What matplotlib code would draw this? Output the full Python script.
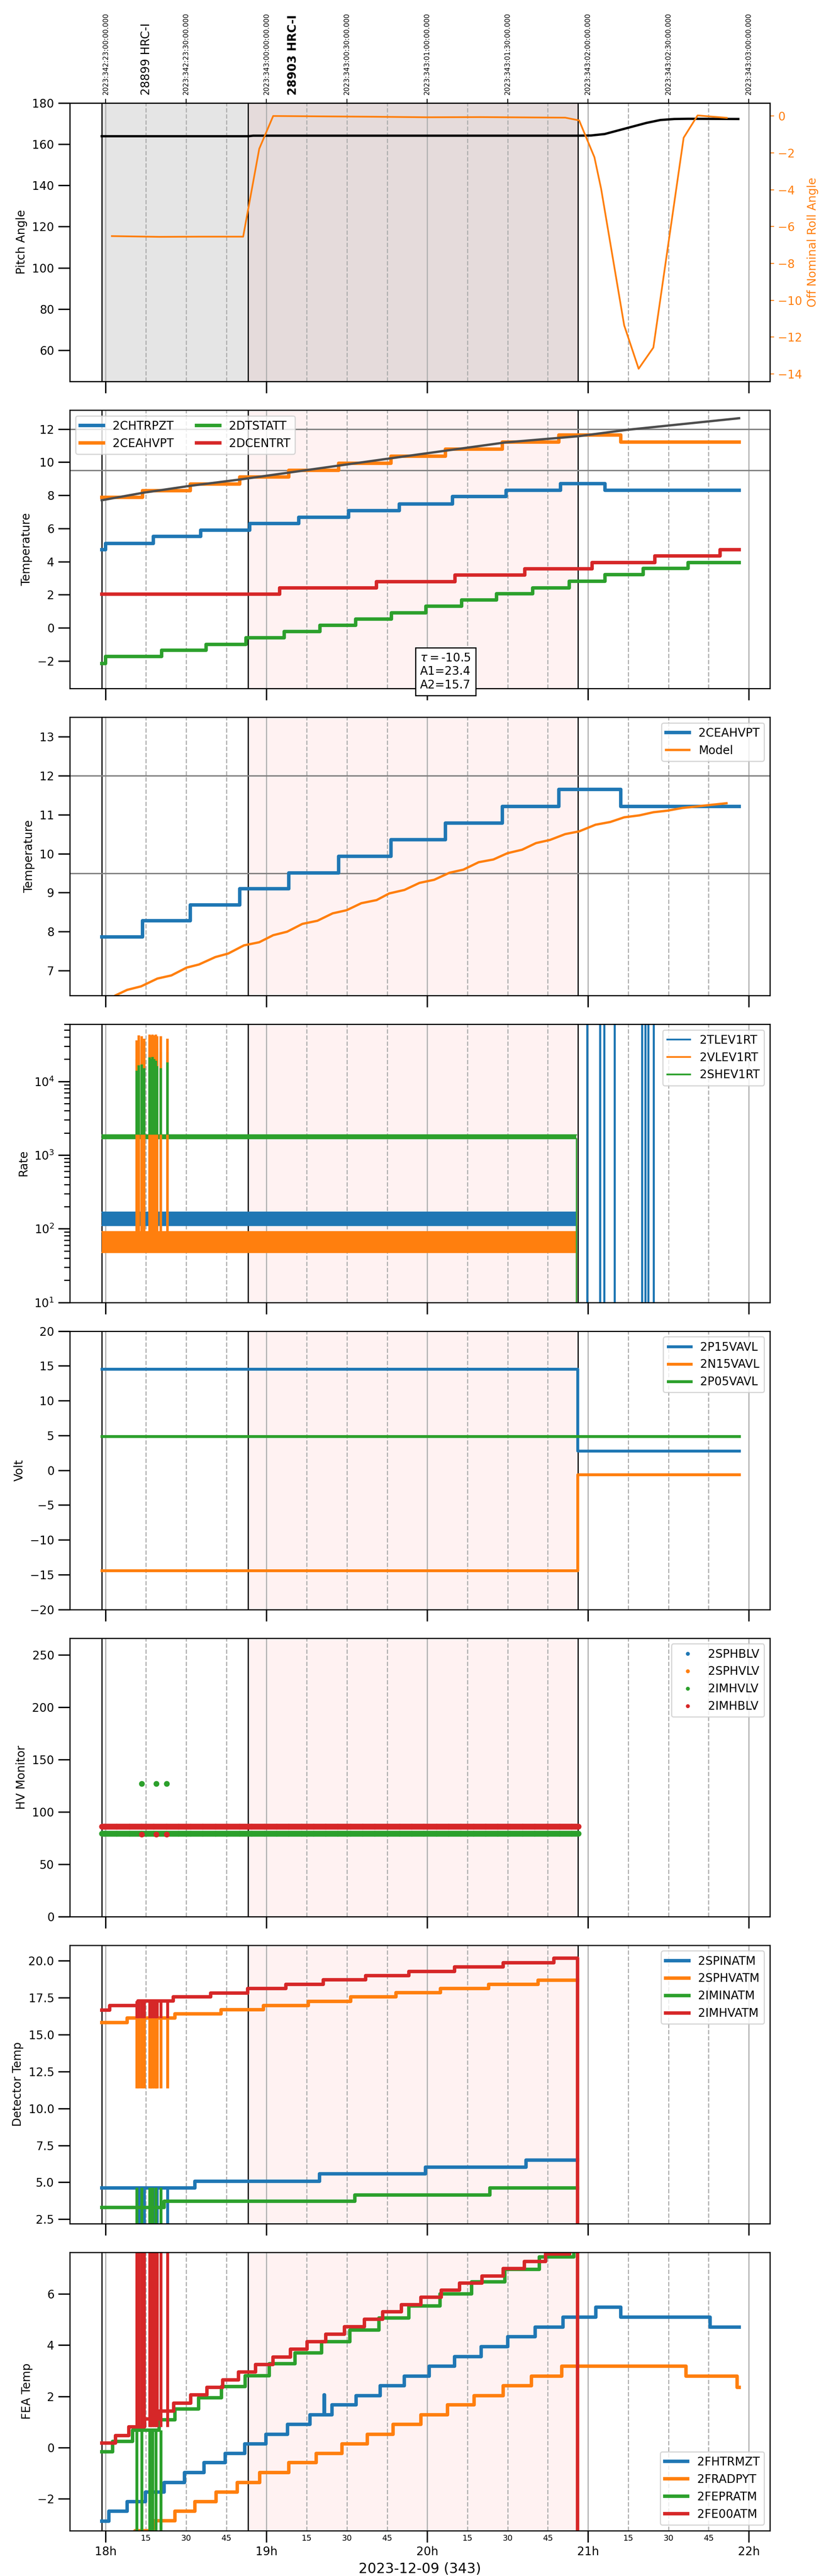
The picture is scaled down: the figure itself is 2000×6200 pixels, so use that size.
import numpy as np
import matplotlib
matplotlib.use('Agg')
import matplotlib.pyplot as plt
import matplotlib.transforms as mtransforms

plt.rcParams['font.family'] = ['DejaVu Sans']
plt.rcParams['axes.linewidth'] = 1.0

# ---------------- time axis (minutes after 2023-12-09 18:00 local) ----------------
XLIM = (-13.4, 247.9)
major_tick_t = [0, 60, 120, 180, 240]
major_tick_labels = ['18h', '19h', '20h', '21h', '22h']
minor_tick_t = [15, 30, 45, 75, 90, 105, 135, 150, 165, 195, 210, 225]
minor_tick_labels = ['15', '30', '45', '15', '30', '45', '15', '30', '45', '15', '30', '45']
top_tick_t = [0, 30, 60, 90, 120, 150, 180, 210, 240]
top_tick_labels = ['2023:342:23:00:00.000', '2023:342:23:30:00.000',
                   '2023:343:00:00:00.000', '2023:343:00:30:00.000',
                   '2023:343:01:00:00.000', '2023:343:01:30:00.000',
                   '2023:343:02:00:00.000', '2023:343:02:30:00.000',
                   '2023:343:03:00:00.000']
xlabel_text = '2023-12-09 (343)'

obs_start = [-1.5, 53.2]
obs_end = [53.2, 176.2]
obs_labels = ['28899 HRC-I', '28903 HRC-I']
obs_label_t = [15.1, 69.8]
obs_bold = [False, True]
highlight = (53.2, 176.2)

# ---------------- panel 1 ----------------
pitch_t = [-1.5, 53.2, 55.0, 176.2, 181.1, 186.2, 191.4, 196.6, 201.8, 207.0, 212.2, 217.4, 236.1]
pitch_v = [163.85, 163.85, 164.1, 164.1, 164.2, 164.9, 166.7, 168.5, 170.3, 171.7, 172.2, 172.3, 172.2]
roll_t = [2.3, 20.0, 35.0, 51.3, 57.3, 62.5, 80.0, 100.0, 120.0, 140.0, 160.0, 171.5,
          176.7, 182.4, 184.9, 193.5, 198.9, 204.4, 215.7, 220.9, 231.8]
roll_v = [-6.52, -6.56, -6.55, -6.55, -1.78, 0.0, -0.02, -0.04, -0.07, -0.06, -0.08, -0.09,
          -0.24, -2.24, -3.95, -11.36, -13.72, -12.57, -1.18, 0.03, -0.10]

# ---------------- panel 2 ----------------
chtrpzt_t = [-1.5, -0.1, 17.7, 35.4, 53.8, 72.1, 90.6, 109.6, 129.4, 149.5, 169.8, 186.4, 236.4]
chtrpzt_v = [4.71, 5.10, 5.51, 5.89, 6.30, 6.68, 7.08, 7.47, 7.92, 8.31, 8.70, 8.30]
ceahvpt_t = [-1.5, 13.8, 31.5, 50.0, 68.3, 86.9, 106.4, 126.8, 148.0, 169.1, 192.2, 236.4]
ceahvpt_v = [7.87, 8.28, 8.69, 9.10, 9.51, 9.93, 10.36, 10.78, 11.21, 11.64, 11.21]
dtstatt_t = [-1.5, -0.1, 20.9, 37.4, 52.3, 66.6, 80.0, 93.3, 106.7, 119.5, 132.9, 145.9,
             159.4, 173.0, 186.4, 200.6, 217.4, 236.4]
dtstatt_v = [-2.15, -1.74, -1.36, -0.99, -0.61, -0.22, 0.15, 0.52, 0.90, 1.30, 1.68, 2.05,
             2.41, 2.80, 3.20, 3.58, 3.95]
dcentrt_t = [-1.5, 64.9, 101.0, 130.4, 156.4, 181.6, 204.9, 229.3, 236.4]
dcentrt_v = [2.03, 2.41, 2.79, 3.19, 3.56, 3.95, 4.34, 4.71]
model2_t = [-1.5, 13.9, 31.5, 50.0, 86.9, 115.6, 149.2, 176.2, 194.6, 236.4]
model2_v = [7.70, 8.15, 8.57, 8.95, 9.79, 10.44, 11.19, 11.56, 11.95, 12.65]
limit_lines = [12.0, 9.5]
fit_text = '$\\tau = $-10.5\nA1=23.4\nA2=15.7'

# ---------------- panel 3 ----------------
model3_t = [3.7, 8.0, 13.2, 19.3, 24.5, 30.2, 34.8, 40.9, 45.7, 51.6, 57.3, 62.5, 67.7, 73.4,
            79.0, 84.7, 89.9, 95.4, 101.1, 105.8, 111.5, 117.1, 122.6, 128.3, 133.5, 139.2,
            144.7, 149.9, 155.4, 160.6, 165.8, 171.5, 176.7, 182.8, 188.3, 193.5, 199.2,
            204.4, 209.6, 215.3, 220.8, 226.0, 231.7]
model3_v = [6.37, 6.51, 6.60, 6.80, 6.88, 7.08, 7.16, 7.35, 7.44, 7.65, 7.73, 7.91, 8.00, 8.20,
            8.28, 8.47, 8.55, 8.73, 8.81, 8.98, 9.07, 9.25, 9.33, 9.51, 9.59, 9.78, 9.85,
            10.01, 10.10, 10.27, 10.35, 10.50, 10.57, 10.74, 10.81, 10.93, 10.98, 11.06,
            11.10, 11.17, 11.21, 11.25, 11.29]

# ---------------- panel 4 (rates) ----------------
rate_t = [-1.5, 175.7]
tlev_lo = [112, 112]
tlev_hi = [168, 168]
vlev_lo = [48, 48]
vlev_hi = [92, 92]
shev_lo = [1680, 1680]
shev_hi = [1900, 1900]
burst_t = [11.6, 12.4, 13.5, 14.3, 16.3, 16.9, 17.5, 18.1, 18.7, 19.1, 20.5, 23.0]
tlev_burst_peak = [20000, 36000, 30000, 25000, 30000, 28000, 30000, 28000, 30000, 28000, 25000, 25000]
vlev_burst_peak = [36000, 42000, 41000, 38000, 43000, 42000, 43000, 42000, 43000, 41000, 41000, 38000]
shev_burst_peak = [14000, 16500, 17000, 15000, 21000, 20000, 21500, 20000, 19000, 16000, 15000, 18000]
tlev_late_t = [179.6, 184.5, 186.1, 189.9, 200.2, 201.4, 202.5, 204.5]

# ---------------- panel 5 (volt) ----------------
p15_t = [-1.5, 176.1, 236.4]
p15_v = [14.56, 2.78]
n15_t = [-1.5, 176.1, 236.4]
n15_v = [-14.43, -0.60]
p05_t = [-1.5, 236.4]
p05_v = [4.86]

# ---------------- panel 6 (HV monitor) ----------------
hv_start, hv_end, hv_step = -1.5, 176.7, 0.3
sphblv_v = []
sphvlv_v = []
imhvlv_level = 79.4
imhblv_level = 86.1
hv_burst_t = [13.5, 18.9, 22.8]
imhvlv_burst = [127.0, 127.0, 127.0]
imhblv_burst = [78.5, 78.5, 78.5]

# ---------------- panel 7 (detector temp) ----------------
spinatm_t = [-1.5, 33.3, 79.8, 119.3, 156.9, 176.1]
spinatm_v = [4.62, 5.08, 5.56, 6.03, 6.51]
sphvatm_t = [-1.5, 8.0, 25.8, 43.0, 58.8, 75.6, 91.4, 108.4, 125.0, 142.9, 161.3, 176.1]
sphvatm_v = [15.82, 16.11, 16.40, 16.69, 16.97, 17.26, 17.55, 17.83, 18.12, 18.41, 18.69]
iminatm_t = [-1.5, 21.8, 93.0, 143.4, 176.1]
iminatm_v = [3.29, 3.72, 4.15, 4.62]
imhvatm_t = [-1.5, 1.5, 12.0, 25.2, 39.2, 52.9, 67.3, 81.2, 97.0, 113.2, 130.2, 148.4, 167.2, 176.1, 176.3]
imhvatm_v = [16.67, 16.96, 17.27, 17.55, 17.82, 18.11, 18.41, 18.70, 18.98, 19.28, 19.58, 19.87, 20.17, 0.0]
# burst excursions (low, high) per series
spinatm_burst = (0.0, 4.62)
sphvatm_burst = (11.36, 16.11)
iminatm_burst = (0.0, 4.65)
imhvatm_burst = (16.13, 17.27)

# ---------------- panel 8 (FEA temp) ----------------
fhtrmzt_t = [-1.5, 1.1, 8.0, 14.9, 21.8, 29.4, 36.7, 44.6, 51.9, 59.8, 67.9, 76.2, 81.5, 81.7,
             84.5, 93.4, 102.5, 111.4, 120.7, 130.2, 140.1, 150.0, 160.3, 170.6, 183.0,
             192.3, 225.5, 236.4]
fhtrmzt_v = [-2.89, -2.50, -2.12, -1.74, -1.37, -0.99, -0.60, -0.23, 0.14, 0.51, 0.90, 1.28,
             2.05, 1.28, 1.66, 2.03, 2.42, 2.79, 3.18, 3.56, 3.94, 4.33, 4.70, 5.09, 5.49,
             5.09, 4.70]
fradpyt_t = [-1.5, 10.9, 17.9, 25.8, 33.3, 41.2, 49.1, 57.4, 68.3, 78.6, 88.1, 97.6, 107.3,
             117.7, 127.6, 137.5, 148.4, 158.9, 170.2, 216.6, 235.6, 236.4]
fradpyt_v = [-3.64, -3.26, -2.87, -2.50, -2.12, -1.74, -1.37, -0.99, -0.60, -0.23, 0.14,
             0.51, 0.90, 1.28, 1.66, 2.03, 2.42, 2.79, 3.18, 2.79, 2.35]
fepratm_t = [-1.5, 2.5, 10.0, 19.9, 25.8, 34.7, 43.2, 52.1, 61.0, 70.7, 80.6, 91.1, 101.9,
             113.2, 124.7, 136.5, 149.0, 161.9, 174.7, 176.1]
fepratm_v = [-0.17, 0.24, 0.68, 1.09, 1.51, 1.94, 2.38, 2.81, 3.27, 3.70, 4.14, 4.60, 5.07,
             5.53, 6.01, 6.48, 6.96, 7.45, 7.90]
fe00atm_t = [-1.5, 3.6, 8.6, 14.5, 19.9, 25.4, 31.7, 37.7, 43.6, 49.5, 55.9, 62.4, 68.9,
             75.2, 82.2, 89.1, 96.6, 103.3, 110.4, 117.7, 125.3, 132.0, 140.5, 148.4, 156.3,
             164.2, 173.1, 176.1, 176.3]
fe00atm_v = [0.17, 0.47, 0.80, 1.11, 1.42, 1.74, 2.05, 2.35, 2.65, 2.95, 3.25, 3.54, 3.84,
             4.14, 4.43, 4.72, 5.01, 5.30, 5.59, 5.87, 6.15, 6.43, 6.71, 7.00, 7.28, 7.56,
             8.00, -10.0]
fepratm_burst = (-10.0, 0.68)
fe00atm_burst = (0.80, 10.0)


def step(ax, t, v, **kw):
    t = list(t)
    v = list(v)
    if len(v) < len(t):
        v = v + [v[-1]] * (len(t) - len(v))
    else:
        v = v[:len(t)]
    return ax.plot(t, v, drawstyle='steps-post', **kw)


fig, axes = plt.subplots(8, 1, figsize=(10, 31), dpi=200, sharex=True)
fig.subplots_adjust(left=0.084, right=0.9265, top=0.96005, bottom=0.01766, hspace=0.103)


def decorate(ax):
    ax.set_xlim(*XLIM)
    ax.axvspan(highlight[0], highlight[1], color='red', alpha=0.05, lw=0, zorder=0)
    for s, e in zip(obs_start, obs_end):
        ax.axvline(s, color='k', lw=1, zorder=1.5)
        ax.axvline(e, color='k', lw=1, zorder=1.5)
    ax.set_axisbelow(True)
    ax.grid(True, axis='x', which='major', color='#b0b0b0', lw=1, ls='-')
    ax.grid(True, axis='x', which='minor', color='#b0b0b0', lw=1, ls='--')
    ax.tick_params(axis='both', which='major', length=10, width=1.2, labelsize=10)
    ax.tick_params(axis='x', which='minor', length=0, labelsize=7)


axes[-1].set_xticks(major_tick_t, labels=major_tick_labels)
axes[-1].set_xticks(minor_tick_t, labels=minor_tick_labels, minor=True)

# ---------- panel 1 ----------
ax = axes[0]
decorate(ax)
for s, e in zip(obs_start, obs_end):
    ax.axvspan(s, e, color='gray', alpha=0.2, lw=0, zorder=0)
ax.plot(pitch_t, pitch_v, color='k', lw=2)
ax.set_ylim(45, 180)
ax.set_yticks([60, 80, 100, 120, 140, 160, 180])
ax.set_ylabel('Pitch Angle', fontsize=10)
axr = ax.twinx()
axr.plot(roll_t, roll_v, color='C1', lw=1.5)
axr.set_ylim(-14.4, 0.71)
axr.set_yticks([0, -2, -4, -6, -8, -10, -12, -14])
axr.tick_params(axis='y', colors='C1', labelsize=10)
axr.set_ylabel('Off Nominal Roll Angle', color='C1', fontsize=10)
sec = ax.secondary_xaxis('top')
sec.set_xticks(top_tick_t, labels=top_tick_labels)
sec.tick_params(axis='x', labelrotation=90, labelsize=6)
trans = mtransforms.blended_transform_factory(ax.transData, ax.transAxes)
for lt, lab, b in zip(obs_label_t, obs_labels, obs_bold):
    ax.text(lt, 1.028, lab, transform=trans, rotation=90, ha='center', va='bottom',
            fontsize=10, fontweight='bold' if b else 'normal')

# ---------- panel 2 ----------
ax = axes[1]
decorate(ax)
for yv in limit_lines:
    ax.axhline(yv, color='gray', lw=1.2, zorder=1.6)
step(ax, chtrpzt_t, chtrpzt_v, color='C0', lw=3, label='2CHTRPZT')
step(ax, ceahvpt_t, ceahvpt_v, color='C1', lw=3, label='2CEAHVPT')
step(ax, dtstatt_t, dtstatt_v, color='C2', lw=3, label='2DTSTATT')
step(ax, dcentrt_t, dcentrt_v, color='C3', lw=3, label='2DCENTRT')
ax.plot(model2_t, model2_v, color='0.3', lw=2, zorder=2.5)
ax.set_ylim(-3.65, 13.15)
ax.set_yticks([-2, 0, 2, 4, 6, 8, 10, 12])
ax.set_ylabel('Temperature', fontsize=10)
ax.legend(loc='upper left', ncol=2, fontsize=10)
ax.text(0.5367, 0.0604, fit_text, transform=ax.transAxes, ha='center', va='center',
        multialignment='left', fontsize=10, zorder=10,
        bbox=dict(boxstyle='square,pad=0.4', fc='white', ec='black', lw=1))

# ---------- panel 3 ----------
ax = axes[2]
decorate(ax)
for yv in limit_lines:
    ax.axhline(yv, color='gray', lw=1.2, zorder=1.6)
step(ax, ceahvpt_t, ceahvpt_v, color='C0', lw=3, label='2CEAHVPT')
ax.plot(model3_t, model3_v, color='C1', lw=2, label='Model')
ax.set_ylim(6.37, 13.5)
ax.set_yticks([7, 8, 9, 10, 11, 12, 13])
ax.set_ylabel('Temperature', fontsize=10)
ax.legend(loc='upper right', fontsize=10)

# ---------- panel 4 ----------
ax = axes[3]
decorate(ax)
ax.set_yscale('log')
handles = []
for (lo, hi, peak, col, lab) in [(tlev_lo, tlev_hi, tlev_burst_peak, 'C0', '2TLEV1RT'),
                                 (vlev_lo, vlev_hi, vlev_burst_peak, 'C1', '2VLEV1RT'),
                                 (shev_lo, shev_hi, shev_burst_peak, 'C2', '2SHEV1RT')]:
    ax.fill_between(rate_t, lo, hi, color=col, lw=0, zorder=2)
    ax.plot(rate_t, lo, color=col, lw=1)
    h, = ax.plot(rate_t, hi, color=col, lw=1, label=lab)
    handles.append(h)
    ax.vlines(burst_t, hi[0], peak, color=col, lw=2.2, zorder=2.2)
    ax.vlines([rate_t[-1]], 1, lo[-1], color=col, lw=1.2)
ax.vlines(tlev_late_t, 1, 1e6, color='C0', lw=1.8, zorder=2.3)
ax.set_ylim(10, 6e4)
ax.tick_params(axis='y', which='minor', length=5, width=1)
ax.set_ylabel('Rate', fontsize=10)
leg = ax.legend(handles=handles, loc='upper right', fontsize=10)
for lh in leg.get_lines():
    lh.set_linewidth(1.5)

# ---------- panel 5 ----------
ax = axes[4]
decorate(ax)
step(ax, p15_t, p15_v, color='C0', lw=2.5, label='2P15VAVL')
step(ax, n15_t, n15_v, color='C1', lw=2.5, label='2N15VAVL')
step(ax, p05_t, p05_v, color='C2', lw=2.5, label='2P05VAVL')
ax.set_ylim(-20, 20)
ax.set_yticks([-20, -15, -10, -5, 0, 5, 10, 15, 20])
ax.set_ylabel('Volt', fontsize=10)
ax.legend(loc='upper right', fontsize=10)

# ---------- panel 6 ----------
ax = axes[5]
decorate(ax)
hv_t = np.arange(hv_start, hv_end, hv_step)
ax.plot(hv_t[:len(sphblv_v)], sphblv_v, 'o', ms=4, color='C0', label='2SPHBLV')
ax.plot(hv_t[:len(sphvlv_v)], sphvlv_v, 'o', ms=4, color='C1', label='2SPHVLV')
ax.plot(np.concatenate([hv_t, hv_burst_t]),
        np.concatenate([np.full(hv_t.size, imhvlv_level), imhvlv_burst]),
        'o', ms=4, color='C2', label='2IMHVLV')
ax.plot(np.concatenate([hv_t, hv_burst_t]),
        np.concatenate([np.full(hv_t.size, imhblv_level), imhblv_burst]),
        'o', ms=4, color='C3', label='2IMHBLV')
ax.set_ylim(0, 266)
ax.set_yticks([0, 50, 100, 150, 200, 250])
ax.set_ylabel('HV Monitor', fontsize=10)
ax.legend(loc='upper right', fontsize=10, markerscale=0.6)

# ---------- panel 7 ----------
ax = axes[6]
decorate(ax)
step(ax, spinatm_t, spinatm_v, color='C0', lw=3, label='2SPINATM')
ax.vlines(burst_t, *spinatm_burst, color='C0', lw=2.5)
step(ax, sphvatm_t, sphvatm_v, color='C1', lw=3, label='2SPHVATM')
ax.vlines(burst_t, *sphvatm_burst, color='C1', lw=2.5)
step(ax, iminatm_t, iminatm_v, color='C2', lw=3, label='2IMINATM')
ax.vlines(burst_t[::2], *iminatm_burst, color='C2', lw=2.5)
step(ax, imhvatm_t, imhvatm_v, color='C3', lw=3, label='2IMHVATM')
ax.vlines(burst_t, *imhvatm_burst, color='C3', lw=2.5)
ax.set_ylim(2.21, 21.06)
ax.set_yticks([2.5, 5.0, 7.5, 10.0, 12.5, 15.0, 17.5, 20.0])
ax.set_ylabel('Detector Temp', fontsize=10)
ax.legend(loc='upper right', fontsize=10)

# ---------- panel 8 ----------
ax = axes[7]
decorate(ax)
step(ax, fhtrmzt_t, fhtrmzt_v, color='C0', lw=3, label='2FHTRMZT')
step(ax, fradpyt_t, fradpyt_v, color='C1', lw=3, label='2FRADPYT')
step(ax, fepratm_t, fepratm_v, color='C2', lw=3, label='2FEPRATM')
ax.vlines(burst_t[::2], *fepratm_burst, color='C2', lw=2.5)
step(ax, fe00atm_t, fe00atm_v, color='C3', lw=3, label='2FE00ATM')
ax.vlines(burst_t, *fe00atm_burst, color='C3', lw=2.5)
ax.set_ylim(-3.25, 7.64)
ax.set_yticks([-2, 0, 2, 4, 6])
ax.set_ylabel('FEA Temp', fontsize=10)
ax.legend(loc='lower right', fontsize=10)
ax.set_xlabel(xlabel_text, fontsize=12)

fig.savefig('out.png', dpi=200)
